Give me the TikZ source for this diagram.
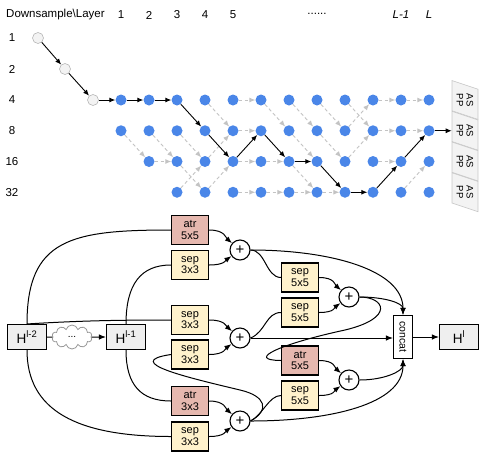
\documentclass[tikz,border=0pt]{standalone}
\usepackage{fontspec}
\setmainfont{Liberation Sans}
\usetikzlibrary{arrows.meta,shapes.geometric,shapes.symbols}
\definecolor{DotBlue}{HTML}{4A86E8}
\definecolor{DashGrey}{HTML}{C3C3C3}
\definecolor{StemFill}{HTML}{F3F3F3}
\definecolor{StemLine}{HTML}{B7B7B7}
\definecolor{AtrRed}{HTML}{E6B8AF}
\definecolor{SepYellow}{HTML}{FFF2CC}
\definecolor{TensorGrey}{HTML}{EFEFEF}
\definecolor{AsppFill}{HTML}{F3F3F3}
\definecolor{AsppLine}{HTML}{C8C8C8}
\definecolor{CloudLine}{HTML}{999999}
\newcommand{\hop}[2]{\draw[hoparrow] (#1) -- (#2);}% from, to (grey candidate)
\newcommand{\pick}[2]{\draw[pickarrow] (#1) -- (#2);}% from, to (chosen path)

\tikzset{
  lbl/.style={inner sep=0pt, font=\fontsize{11.5}{13}\selectfont},
  dot/.style={circle, fill=DotBlue, inner sep=0pt, minimum size=11pt},
  stemdot/.style={circle, draw=StemLine, fill=StemFill, line width=0.6pt, inner sep=0pt, minimum size=11pt},
  hoparrow/.style={DashGrey, line width=0.9pt, dash pattern=on 3.5pt off 2.5pt, -{Latex[length=6pt,width=5pt]}},
  pickarrow/.style={black, line width=0.9pt, -{Latex[length=6pt,width=5pt]}},
  aspp/.style={trapezium, trapezium left angle=73, trapezium right angle=107, trapezium stretches=true,
    minimum width=39pt, minimum height=26pt, rotate=-90, draw=AsppLine, fill=AsppFill,
    line width=0.6pt, inner sep=0pt, align=center, font=\fontsize{9.5}{10}\selectfont},
  opbox/.style={draw, line width=1.1pt, minimum width=37pt, minimum height=29pt, inner sep=0pt,
    align=center, font=\fontsize{11}{11.5}\selectfont},
  atrbox/.style={opbox, fill=AtrRed},
  sepbox/.style={opbox, fill=SepYellow},
  tensor/.style={draw, line width=1.1pt, fill=TensorGrey, minimum width=39pt, minimum height=25pt,
    inner sep=0pt, font=\fontsize{13.5}{15}\selectfont},
  addnode/.style={circle, draw, line width=1.1pt, fill=white, minimum size=20pt, inner sep=0pt,
    font=\fontsize{15}{15}\selectfont},
  flow/.style={line width=1pt},
  feed/.style={flow, -{Latex[length=7pt,width=5.5pt]}}
}

\begin{document}
\begin{tikzpicture}[x=1pt, y=-1pt]
\useasboundingbox (0,0) rectangle (486,461);

% Header row and row labels
\node[lbl, anchor=west] (head) at (6,15) {Downsample\textbackslash Layer};
\foreach \c in {1,...,5}
  \node[lbl] (col\c) at ({93+28*\c},15) {\c};
\node[lbl] (coldots) at (317,14) {......};
\node[lbl] (colLm1) at (401,15) {\textit{L-1}};
\node[lbl] (colL) at (429,15) {\textit{L}};
\foreach \lab/\y in {1/38, 2/69, 4/100, 8/130.75, 16/161.5, 32/192.25}
  \node[lbl] (row\lab) at (12,\y) {\lab};

% Stem and cell lattice
\node[stemdot] (s1) at (38,38) {};
\node[stemdot] (s2) at (65,69) {};
\node[stemdot] (n0-0) at (93,100) {};
\foreach \r/\y/\cmin in {0/100/1, 1/130.75/1, 2/161.5/2, 3/192.25/3}
  \foreach \c in {\cmin,...,12}
    \node[dot] (n\r-\c) at ({93+28*\c},\y) {};

% ASPP heads
\foreach \k/\y in {4/100, 8/130.75, 16/161.5, 32/192.25}
  \node[aspp] (aspp\k) at (465,\y) {AS\\PP};

% Candidate transitions, same scale
\hop{n0-5}{n0-6} \hop{n0-10}{n0-11} \hop{n0-11}{n0-12}
\hop{n1-5}{n1-6} \hop{n1-10}{n1-11} \hop{n1-11}{n1-12}
\hop{n2-2}{n2-3} \hop{n2-5}{n2-6} \hop{n2-6}{n2-7} \hop{n2-10}{n2-11}
\hop{n3-5}{n3-6} \hop{n3-6}{n3-7} \hop{n3-7}{n3-8} \hop{n3-8}{n3-9}
% downsample
\hop{n0-4}{n1-5} \hop{n0-6}{n1-7} \hop{n0-7}{n1-8} \hop{n0-8}{n1-9} \hop{n0-9}{n1-10}
\hop{n1-1}{n2-2} \hop{n1-2}{n2-3} \hop{n1-3}{n2-4} \hop{n1-7}{n2-8} \hop{n1-8}{n2-9}
\hop{n2-3}{n3-4} \hop{n2-7}{n3-8}
% upsample
\hop{n1-9}{n0-10}
\hop{n2-4}{n1-5} \hop{n2-9}{n1-10}
\hop{n3-3}{n2-4} \hop{n3-4}{n2-5} \hop{n3-11}{n2-12}

% Chosen network path
\pick{s1}{s2} \pick{s2}{n0-0}
\pick{n0-0}{n0-1} \pick{n0-1}{n0-2} \pick{n0-2}{n0-3}
\pick{n0-3}{n1-4} \pick{n1-4}{n2-5} \pick{n2-5}{n1-6} \pick{n1-6}{n2-7}
\pick{n2-7}{n2-8} \pick{n2-8}{n3-9} \pick{n3-9}{n3-10} \pick{n3-10}{n2-11}
\pick{n2-11}{n1-12} \pick{n1-12}{aspp8}

% Cell: inputs, branches, adders
\node[tensor] (hprev2) at (27,337) {H\textsuperscript{l-2}};
\node[cloud, cloud puffs=10, aspect=1.8, draw=CloudLine, fill=white, line width=0.8pt,
  minimum width=40pt, minimum height=24pt, inner sep=0pt] (skip) at (72,337) {...};
\node[tensor] (hprev1) at (126,337) {H\textsuperscript{l-1}};
\node[atrbox] (atrA) at (190,230) {atr\\5x5};
\node[sepbox] (sepA) at (190,265) {sep\\3x3};
\node[addnode] (addA) at (240,250) {+};
\node[sepbox] (sepB) at (190,320) {sep\\3x3};
\node[sepbox] (sepC) at (190,354.5) {sep\\3x3};
\node[addnode] (addB) at (240,338) {+};
\node[atrbox] (atrB) at (190,401) {atr\\3x3};
\node[sepbox] (sepD) at (190,436.5) {sep\\3x3};
\node[addnode] (addC) at (240,421) {+};
\node[sepbox] (sepE) at (300,277.5) {sep\\5x5};
\node[sepbox] (sepF) at (300,312.5) {sep\\5x5};
\node[addnode] (addD) at (349,297) {+};
\node[atrbox] (atrC) at (300,360.5) {atr\\5x5};
\node[sepbox] (sepG) at (300,395.5) {sep\\5x5};
\node[addnode] (addE) at (349,380) {+};
\node[draw, line width=1.1pt, fill=white, minimum width=19pt, minimum height=43pt, inner sep=0pt,
  font=\fontsize{10.5}{11}\selectfont] (concat) at (403,337) {\rotatebox{-90}{concat}};
\node[tensor] (hout) at (459,337) {H\textsuperscript{l}};

% Inputs into the branches
\draw[flow] (hprev2.east) -- (skip.west);
\draw[feed] (skip.east) -- (hprev1.west);
\draw[flow] (hprev2.north) .. controls +(0,-85) and +(-100,0) .. (atrA.west);
\draw[flow] (hprev2.north) .. controls +(50,-3) and +(-60,0) .. (sepB.west);
\draw[flow] (hprev2.south) .. controls +(0,60) and +(-95,0) .. (sepD.west);
\draw[flow] (hprev1.north) .. controls +(0,-40) and +(-30,0) .. (sepA.west);
\draw[flow] (hprev1.south) .. controls +(0,35) and +(-30,0) .. (atrB.west);

% Into the adders
\draw[feed] (atrA.east) .. controls +(16,0) and +(-14,-12) .. (addA);
\draw[feed] (sepA.east) .. controls +(16,0) and +(-14,10) .. (addA);
\draw[feed] (sepB.east) .. controls +(16,0) and +(-14,-12) .. (addB);
\draw[feed] (sepC.east) .. controls +(16,0) and +(-14,10) .. (addB);
\draw[feed] (atrB.east) .. controls +(16,0) and +(-14,-12) .. (addC);
\draw[feed] (sepD.east) .. controls +(16,0) and +(-14,10) .. (addC);
\draw[feed] (sepE.east) .. controls +(16,0) and +(-14,-12) .. (addD);
\draw[feed] (sepF.east) .. controls +(16,0) and +(-14,10) .. (addD);
\draw[feed] (atrC.east) .. controls +(16,0) and +(-14,-12) .. (addE);
\draw[feed] (sepG.east) .. controls +(16,0) and +(-14,10) .. (addE);

% Out of the adders
\draw[flow] (addA.east) .. controls +(15,0) and +(-15,0) .. (sepE.west);
\draw[feed] (addA.east) .. controls +(80,0) and +(0,-45) .. (concat.north);
\draw[flow] (addB.east) .. controls +(15,-6) and +(-15,0) .. (sepF.west);
\draw[feed] (addB.east) -- (addB.east -| concat.west);
\draw[flow] (addC.east) .. controls (270,410) and (266,396) .. (240,390)
  .. controls (190,378) and (120,362) .. (sepC.west);
\draw[flow] (addC.east) .. controls +(12,-6) and +(-12,0) .. (sepG.west);
\draw[feed] (addC.east) .. controls +(80,0) and +(0,45) .. (concat.south);
\draw[feed] (addD.east) .. controls +(25,0) and +(0,-12) .. (concat.north);
\draw[flow] (addD.east) .. controls (385,297) and (395,318) .. (345,330)
  .. controls (280,344) and (245,360) .. (atrC.west);
\draw[feed] (addE.east) .. controls +(25,0) and +(0,12) .. (concat.south);
\draw[feed] (concat.east) -- (hout.west);

\end{tikzpicture}
\end{document}
